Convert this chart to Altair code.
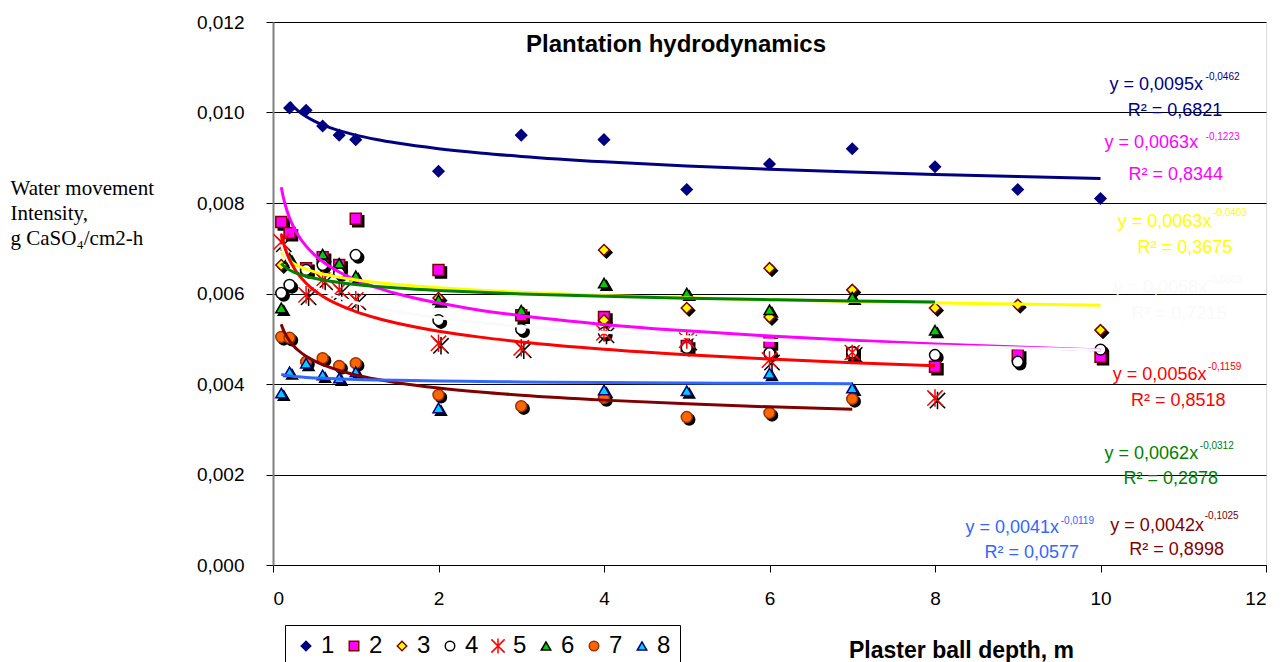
import altair as alt
import pandas as pd

series = ["1", "2", "3", "4", "5", "6", "7", "8"]

# measured points (depth m, intensity)
x1 = [0.2, 0.4, 0.6, 0.8, 1, 2, 3, 4, 5, 6, 7, 8, 9, 10]
y1 = [0.0101, 0.01005, 0.0097, 0.0095, 0.0094, 0.0087, 0.0095, 0.0094, 0.0083, 0.00886, 0.0092, 0.0088, 0.0083, 0.0081]
x2 = [0.1, 0.2, 0.4, 0.6, 0.8, 1, 2, 3, 4, 5, 6, 7, 8, 9, 10]
y2 = [0.00758, 0.00734, 0.00656, 0.0068, 0.00663, 0.00765, 0.00652, 0.00552, 0.00548, 0.00484, 0.00493, 0.00468, 0.00438, 0.00464, 0.0046]
x3 = [0.1, 2, 4, 4, 5, 6, 6, 7, 8, 9, 10]
y3 = [0.00663, 0.0059, 0.00696, 0.00541, 0.00568, 0.00656, 0.00548, 0.00608, 0.00568, 0.00575, 0.00519]
x4 = [0.1, 0.2, 0.4, 0.6, 0.8, 1, 2, 3, 4, 5, 6, 7, 8, 9, 10]
y4 = [0.00601, 0.00619, 0.00652, 0.00663, 0.00645, 0.00685, 0.00541, 0.00521, 0.00513, 0.0048, 0.00468, 0.0047, 0.00464, 0.00449, 0.00476]
x5 = [0.1, 0.4, 0.6, 0.8, 1, 2, 3, 4, 5, 6, 7, 8]
y5 = [0.00714, 0.00597, 0.0063, 0.00608, 0.00586, 0.0049, 0.0048, 0.00513, 0.00497, 0.00453, 0.0047, 0.00369]
x6 = [0.1, 0.2, 0.6, 0.8, 1, 2, 3, 4, 5, 6, 7, 8]
y6 = [0.00568, 0.00678, 0.00687, 0.00667, 0.00639, 0.00586, 0.00563, 0.00623, 0.00601, 0.00564, 0.00592, 0.00519]
x7 = [0.1, 0.2, 0.4, 0.6, 0.8, 1, 2, 3, 4, 5, 6, 7]
y7 = [0.00504, 0.00502, 0.00449, 0.00457, 0.0044, 0.00446, 0.00376, 0.00351, 0.00369, 0.00327, 0.00336, 0.00367]
x8 = [0.1, 0.2, 0.4, 0.6, 0.8, 1, 2, 4, 5, 6, 7]
y8 = [0.0038, 0.00427, 0.00446, 0.0042, 0.00413, 0.00427, 0.00347, 0.00387, 0.00385, 0.00424, 0.00391]

# power trend lines y = a * x^b (from chart equations)
coef_a = [0.0095, 0.0063, 0.0063, 0.0058, 0.0056, 0.0062, 0.0042, 0.0041]
coef_b = [-0.0462, -0.1223, -0.0403, -0.0868, -0.1159, -0.0312, -0.1025, -0.0119]
r2_vals = ["0,6821", "0,8344", "0,3675", "0,7215", "0,8518", "0,2878", "0,8998", "0,0577"]
trend_min = [0.2, 0.1, 0.1, 0.1, 0.1, 0.1, 0.1, 0.1]
trend_max = [10, 10, 10, 10, 8, 8, 7, 7]
trend_grid = [0.1, 0.12, 0.15, 0.2, 0.25, 0.3, 0.4, 0.5, 0.6, 0.8, 1, 1.25, 1.5, 2, 2.5, 3, 4, 5, 6, 7, 8, 9, 10]

eq_text = ["y = 0,0095x", "y = 0,0063x", "y = 0,0063x", "y = 0,0058x",
           "y = 0,0056x", "y = 0,0062x", "y = 0,0042x", "y = 0,0041x"]
sup_text = ["-0,0462", "-0,1223", "-0,0403", "-0,0868", "-0,1159", "-0,0312", "-0,1025", "-0,0119"]

# annotation anchor positions (data units)
eq_x = [11.24, 11.18, 11.34, 11.29, 11.28, 11.18, 11.25, 9.50]
eq_y = [0.01061, 0.00933, 0.00758, 0.00612, 0.00420, 0.00245, 0.00086, 0.00082]
sup_x = [11.27, 11.27, 11.36, 11.30, 11.30, 11.20, 11.26, 9.52]
sup_y = [0.01078, 0.00946, 0.00778, 0.00630, 0.00438, 0.00263, 0.00108, 0.00097]
r2_x = [10.90, 10.91, 11.02, 10.95, 10.94, 10.85, 10.92, 9.17]
r2_y = [0.01003, 0.00862, 0.00701, 0.00555, 0.00362, 0.00190, 0.00033, 0.00027]

shapes = ["diamond", "square", "diamond", "circle",
          "M-1.4,-1.4L1.4,1.4M-1.4,1.4L1.4,-1.4M0,-1.6L0,1.6",
          "triangle-up", "circle", "triangle-up"]
fills = ["#000080", "#FF00FF", "#FFFF00", "#FFFFFF", "#FF0000", "#00CC00", "#FF6600", "#00CCFF"]
strokes = ["#000080", "#800000", "#800000", "#000000", "#FF0000", "#000000", "#993300", "#000080"]
line_colors = ["#000080", "#FF00FF", "#FFFF00", "#FAFAFA", "#FF0000", "#008000", "#800000", "#3366FF"]

xs = [x1, x2, x3, x4, x5, x6, x7, x8]
ys = [y1, y2, y3, y4, y5, y6, y7, y8]
pts = pd.DataFrame([
    {"series": s, "x": xv, "y": yv}
    for s, xl, yl in zip(series, xs, ys) for xv, yv in zip(xl, yl)
])

trend = pd.DataFrame([
    {"series": s, "x": g, "a": a, "b": b}
    for s, a, b, lo, hi in zip(series, coef_a, coef_b, trend_min, trend_max)
    for g in trend_grid if lo <= g <= hi
])

ann = pd.DataFrame({
    "series": series, "eq": eq_text, "sup": sup_text,
    "r2": ["R\u00b2 = " + r for r in r2_vals],
    "eq_x": eq_x, "eq_y": eq_y, "sup_x": sup_x, "sup_y": sup_y,
    "r2_x": r2_x, "r2_y": r2_y,
})

FONT = "Liberation Sans"
xscale = alt.Scale(domain=[0, 12], nice=False, zero=True)
yscale = alt.Scale(domain=[0, 0.012], nice=False)

x_axis = alt.Axis(
    values=[0, 2, 4, 6, 8, 10, 12], format="d", grid=False, title="Plaster ball depth, m",
    titleFont=FONT, titleFontSize=23, titleFontWeight="bold", titleColor="black",
    titleX=688, titleY=85, titleAlign="center", titleBaseline="middle", titleAnchor="start",
    labelFont=FONT, labelFontSize=19, labelColor="black", labelPadding=17,
    tickSize=7, tickColor="black", domainColor="black", domainWidth=1,
)
y_axis = alt.Axis(
    values=[0, 0.002, 0.004, 0.006, 0.008, 0.010, 0.012],
    labelExpr="replace(format(datum.value, '.3f'), '.', ',')",
    grid=True, gridColor="black", gridWidth=1,
    title=["Water movement", "Intensity,", "g CaSO\u2084/cm2-h"],
    titleFont="Liberation Serif", titleFontSize=21, titleFontWeight="normal", titleColor="black",
    titleAngle=0, titleAlign="left", titleBaseline="top", titleX=-263, titleY=155,
    titleLineHeight=25, titleAnchor="start",
    labelFont=FONT, labelFontSize=19, labelColor="black", labelPadding=22,
    tickSize=7, tickColor="black", domainColor="#808080", domainWidth=2,
)

legend = alt.Legend(
    orient="none", legendX=12, legendY=603, direction="horizontal", columns=8,
    title=None, strokeColor="#000000", fillColor="white", padding=9,
    labelFont=FONT, labelFontSize=24, labelColor="black", labelOffset=3,
    symbolSize=90, symbolStrokeWidth=1.5, columnPadding=7,
)

X = alt.X("x:Q", scale=xscale, axis=x_axis)
Y = alt.Y("y:Q", scale=yscale, axis=y_axis)

shape_scale = alt.Scale(domain=series, range=shapes)
fill_scale = alt.Scale(domain=series, range=fills)
stroke_scale = alt.Scale(domain=series, range=strokes)

shadow = alt.Chart(pts).transform_filter("datum.series != '1'").mark_point(
    fill="black", stroke="black", strokeWidth=1.5, size=120, opacity=1,
    xOffset=2.5, yOffset=2.5,
).encode(x=X, y=Y, shape=alt.Shape("series:N", scale=shape_scale, legend=legend))

points = alt.Chart(pts).mark_point(filled=True, size=120, strokeWidth=1.5, opacity=1).encode(
    x=X, y=Y,
    shape=alt.Shape("series:N", scale=shape_scale, legend=legend),
    fill=alt.Fill("series:N", scale=fill_scale, legend=legend),
    stroke=alt.Stroke("series:N", scale=stroke_scale, legend=legend),
)

layers = [shadow, points]

trend_base = alt.Chart(trend).transform_calculate(fit="datum.a * pow(datum.x, datum.b)")
for s, col in zip(series, line_colors):
    layers.append(
        trend_base.transform_filter(alt.datum.series == s)
        .mark_line(strokeWidth=3, interpolate="monotone", stroke=col, opacity=1)
        .encode(x=alt.X("x:Q", scale=xscale), y=alt.Y("fit:Q", scale=yscale))
    )

ann_base = alt.Chart(ann)
for s, col in zip(series, line_colors):
    a_s = ann_base.transform_filter(alt.datum.series == s)
    layers.append(
        a_s.mark_text(align="right", baseline="middle", font=FONT, fontSize=18, fill=col, opacity=1)
        .encode(x=alt.X("eq_x:Q", scale=xscale), y=alt.Y("eq_y:Q", scale=yscale), text="eq:N")
    )
    layers.append(
        a_s.mark_text(align="left", baseline="middle", font=FONT, fontSize=10, fill=col, opacity=1)
        .encode(x=alt.X("sup_x:Q", scale=xscale), y=alt.Y("sup_y:Q", scale=yscale), text="sup:N")
    )
    layers.append(
        a_s.mark_text(align="center", baseline="middle", font=FONT, fontSize=18, fill=col, opacity=1)
        .encode(x=alt.X("r2_x:Q", scale=xscale), y=alt.Y("r2_y:Q", scale=yscale), text="r2:N")
    )

title_df = pd.DataFrame({"t": ["Plantation hydrodynamics"], "tx": [4.87], "ty": [0.01149]})
layers.append(
    alt.Chart(title_df).mark_text(
        font=FONT, fontSize=24, fontWeight="bold", color="black", align="center", baseline="middle"
    ).encode(x=alt.X("tx:Q", scale=xscale), y=alt.Y("ty:Q", scale=yscale), text="t:N")
)

chart = alt.layer(*layers).properties(
    width=993, height=543,
    padding={"left": 2, "top": 5, "right": 5, "bottom": 5},
).configure_view(
    fill="#C0C0C0", stroke="#808080", strokeWidth=1
).configure(background="white")

chart.save("out.html", embed_options={"renderer": "svg", "actions": False})
